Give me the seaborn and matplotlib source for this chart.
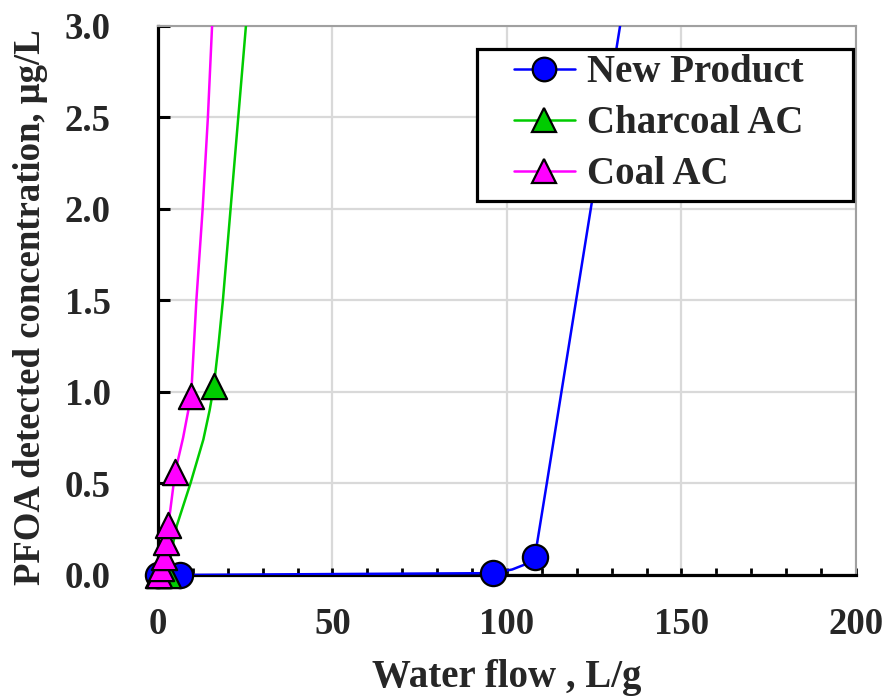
import numpy as np
import pandas as pd
import matplotlib
matplotlib.use("Agg")
import matplotlib.pyplot as plt
from matplotlib.lines import Line2D
from matplotlib.patches import Rectangle
from matplotlib.ticker import MultipleLocator, FormatStrFormatter
import seaborn as sns

# ------------------------------------------------------------
# data
# ------------------------------------------------------------
new_x = [0, 6.4, 96.0, 108.0]
new_y = [0, 0, 0.01, 0.1]
new_curve_x = [0, 6.4, 50, 96.0, 101.5, 105.5, 108.0, 111.4, 115.6, 119.8, 124.0, 128.2, 132.4]
new_curve_y = [0, 0, 0.005, 0.01, 0.03, 0.06, 0.1, 0.5, 1.0, 1.5, 2.0, 2.5, 3.0]

charcoal_x = [0, 2.9, 16.0]
charcoal_y = [0, 0.0, 1.03]
charcoal_curve_x = [0, 2.9, 4.1, 5.4, 9.3, 13.0, 14.8, 16.0, 17.3, 18.6, 20.8, 23.0, 25.2]
charcoal_curve_y = [0, 0.02, 0.15, 0.27, 0.5, 0.74, 0.9, 1.03, 1.25, 1.5, 2.0, 2.5, 3.0]

coal_x = [0.3, 1.0, 1.6, 2.2, 3.0, 4.9, 9.5]
coal_y = [0, 0.04, 0.1, 0.18, 0.275, 0.56, 0.98]
coal_curve_x = [0.3, 1.0, 1.6, 2.2, 3.0, 4.9, 7.2, 9.5, 11.0, 12.8, 14.3, 15.5]
coal_curve_y = [0, 0.04, 0.1, 0.18, 0.275, 0.56, 0.75, 0.98, 1.5, 2.0, 2.5, 3.0]

labels = ["New Product", "Charcoal AC", "Coal AC"]
colors = ["#0000FF", "#00CC00", "#FF00FF"]
markers = ["o", "^", "^"]

# ------------------------------------------------------------
# style
# ------------------------------------------------------------
sns.set_theme(style="white")
plt.rcParams["font.family"] = ["Liberation Serif", "DejaVu Serif"]
plt.rcParams["font.weight"] = "bold"
plt.rcParams["font.size"] = 26.5

fig = plt.figure(figsize=(8.9, 6.96), dpi=100)
ax = fig.add_axes([0.1775, 0.1739, 0.7843, 0.7888])

series = [
    (new_curve_x, new_curve_y, new_x, new_y),
    (charcoal_curve_x, charcoal_curve_y, charcoal_x, charcoal_y),
    (coal_curve_x, coal_curve_y, coal_x, coal_y),
]

for (cx, cy, px, py), lab, col, mk in zip(series, labels, colors, markers):
    curve = pd.DataFrame({"x": cx, "y": cy})
    pts = pd.DataFrame({"x": px, "y": py})
    sns.lineplot(data=curve, x="x", y="y", sort=False, color=col,
                 linewidth=1.8, ax=ax, zorder=3)
    sns.scatterplot(data=pts, x="x", y="y", color=col, marker=mk,
                    s=330, edgecolor="black",
                    linewidth=1.6, ax=ax, zorder=4, clip_on=False)

ax.set_xlim(0, 200)
ax.set_ylim(0, 3.0)
ax.xaxis.set_major_locator(MultipleLocator(50))
ax.xaxis.set_minor_locator(MultipleLocator(10))
ax.yaxis.set_major_locator(MultipleLocator(0.5))
ax.yaxis.set_major_formatter(FormatStrFormatter("%.1f"))

ax.grid(True, which="major", color="#d9d9d9", linewidth=1.6, zorder=0)
ax.set_axisbelow(True)

ax.tick_params(axis="x", which="both", direction="in", length=5, width=2,
               color="black", pad=23, bottom=True, labelsize=26.5)
ax.tick_params(axis="y", which="major", direction="in", length=8.5, width=2.2,
               color="black", pad=34, left=True, labelsize=26.5)

for side in ["left", "bottom"]:
    ax.spines[side].set_color("black")
    ax.spines[side].set_linewidth(2.3)
for side in ["top", "right"]:
    ax.spines[side].set_color("#a0a0a0")
    ax.spines[side].set_linewidth(1.5)

ax.set_xlabel("Water flow , L/g", fontweight="bold", fontsize=28, labelpad=12)
ax.set_ylabel("PFOA detected concentration, μg/L", fontweight="bold",
              fontsize=26.5, labelpad=12)
ax.yaxis.label.set_y(0.488)

# legend box drawn as its own frame, entries placed inside
ax.add_patch(Rectangle((0.457, 0.681), 0.5387, 0.277, transform=ax.transAxes,
                       facecolor="white", edgecolor="black", linewidth=2.3,
                       zorder=4.9, clip_on=False))
handles = [
    Line2D([0], [0], color=c, marker=m, markersize=17,
           markerfacecolor=c, markeredgecolor="black", markeredgewidth=1.6,
           linewidth=1.8)
    for c, m in zip(colors, markers)
]
leg = ax.legend(handles, labels, loc="center left",
                bbox_to_anchor=(0.510, 0.8215), borderaxespad=0,
                frameon=False, handlelength=1.57, handletextpad=0.31,
                labelspacing=0.36, borderpad=0,
                prop={"weight": "bold", "size": 28})
leg.set_zorder(5)

fig.savefig("out.png", dpi=100)
